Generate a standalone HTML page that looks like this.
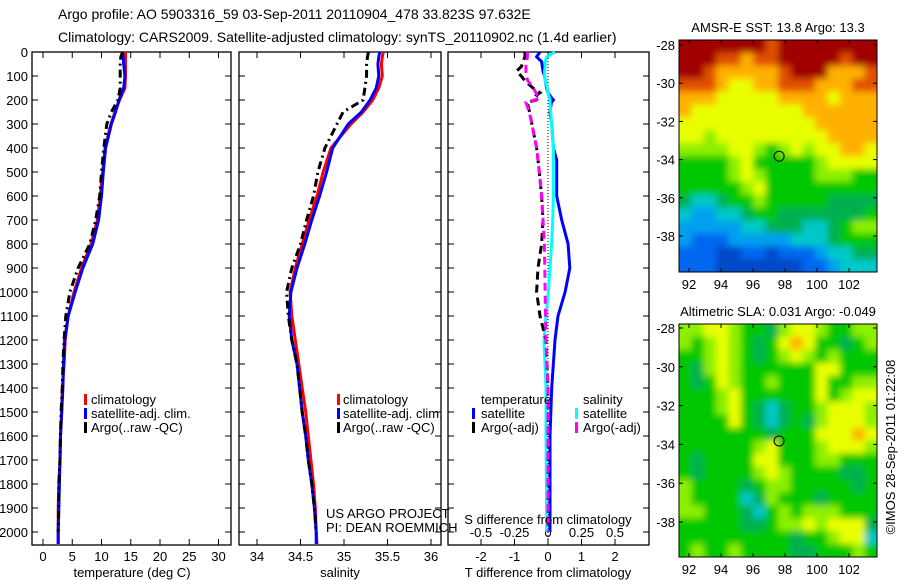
<!DOCTYPE html>
<html><head><meta charset="utf-8">
<style>
html,body{margin:0;padding:0;background:#fff;}
svg{display:block;font-family:"Liberation Sans",sans-serif;}
</style></head>
<body>
<svg id="fig" width="900" height="580" viewBox="0 0 900 580" xmlns="http://www.w3.org/2000/svg">
<defs>
<filter id="smooth" x="-5%" y="-5%" width="110%" height="110%"><feGaussianBlur stdDeviation="3.5"/></filter>
<clipPath id="clipSst"><rect x="679" y="40" width="198" height="232"/></clipPath>
<clipPath id="clipSla"><rect x="679" y="324" width="198" height="233"/></clipPath>
</defs>
<rect width="900" height="580" fill="#fff"/>
<text x="58" y="19" font-size="14">Argo profile: AO 5903316_59 03-Sep-2011 20110904_478 33.823S 97.632E</text>
<text x="58" y="42" font-size="14">Climatology: CARS2009. Satellite-adjusted climatology: synTS_20110902.nc (1.4d earlier)</text>
<g id="plots"></g>
</svg>
<script>
// ---- profile data ----
const depthT = [0,20,50,100,150,200,250,300,400,500,600,700,800,900,1000,1100,1200,1300,1400,1500,1600,1700,1800,1900,2000,2050];
const tempClim = [14.1,14.1,14.1,14.1,14.0,13.1,12.3,11.6,10.6,10.2,9.8,9.3,8.2,6.6,5.3,4.3,3.8,3.6,3.3,3.2,3.0,2.9,2.7,2.6,2.6,2.6];
const tempSat  = [13.6,13.7,13.8,14.0,13.8,13.0,12.4,11.7,10.7,10.3,10.0,9.5,8.5,6.8,5.5,4.3,3.7,3.5,3.4,3.2,3.0,2.9,2.8,2.7,2.6,2.6];
const tempArgo = [13.6,13.3,13.2,13.2,13.2,12.8,11.7,10.9,10.4,10.0,9.7,9.0,8.0,6.0,4.6,3.9,3.6,3.4,3.3,3.1,3.0,2.9,2.7,2.7,2.6];
const salClim = [35.45,35.44,35.43,35.44,35.40,35.33,35.22,35.08,34.85,34.76,34.69,34.60,34.52,34.44,34.38,34.40,34.44,34.48,34.52,34.56,34.59,34.62,34.65,34.67,34.68,34.69];
const salSat  = [35.41,35.40,35.39,35.40,35.37,35.30,35.20,35.05,34.87,34.80,34.72,34.63,34.55,34.46,34.39,34.37,34.40,34.46,34.49,34.52,34.56,34.59,34.63,34.66,34.68,34.68];
const salArgo = [35.28,35.27,35.26,35.26,35.24,35.22,34.99,34.92,34.78,34.70,34.65,34.57,34.50,34.40,34.34,34.36,34.40,34.46,34.49,34.52,34.56,34.59,34.63,34.66,34.68];
const depthD = [0,20,40,60,80,100,120,150,170,180,190,200,210,250,300,400,450,500,600,700,800,900,1000,1100,1200,1400,1600,1800,2000];
const dTsat  = [-0.24,-0.34,-0.19,-0.17,-0.15,-0.10,-0.08,-0.04,0.0,0.05,0.10,0.16,0.10,0.06,0.11,0.16,0.26,0.26,0.26,0.41,0.60,0.65,0.51,0.30,0.21,0.11,0.06,0.06,0.06];
const dSsat  = [0.052,-0.01,-0.02,-0.022,-0.025,-0.025,-0.02,-0.005,0.0,0.005,0.01,0.015,0.015,0.02,0.027,0.04,0.04,0.04,0.04,0.035,0.027,0.015,0.002,-0.015,-0.03,-0.015,-0.015,-0.012,-0.01];
const dTargo = [-0.69,-0.69,-0.75,-0.79,-0.94,-0.80,-0.69,-0.45,-0.24,-0.34,-0.24,-0.35,-0.62,-0.55,-0.48,-0.34,-0.3,-0.26,-0.19,-0.15,-0.19,-0.30,-0.34,-0.24,-0.06,0.0,0.0,0.0,0.0];
const dSargo = [-0.154,-0.154,-0.16,-0.165,-0.165,-0.165,-0.15,-0.11,-0.09,-0.08,-0.06,-0.10,-0.164,-0.14,-0.12,-0.085,-0.075,-0.065,-0.047,-0.037,-0.027,-0.024,-0.022,-0.018,-0.015,0.0,0.0,0.0,0.0];
const depthTicks = [0,100,200,300,400,500,600,700,800,900,1000,1100,1200,1300,1400,1500,1600,1700,1800,1900,2000];
const tempTicks = [0,5,10,15,20,25,30];
const salTicks = [34,34.5,35,35.5,36];
const salTickLabels = ["34","34.5","35","35.5","36"];
const tdTicks = [-2,-1,0,1,2];
const sdTicks = [-0.5,-0.25,0,0.25,0.5];
const sdTickLabels = ["-0.5","-0.25","0","0.25","0.5"];
// ---- map data (colour levels 0..10) ----
const sstGrid = [
"AAAAAAA9AAAAAAAA","AAA99899AAAAA9AA","AA9888889AAA8889","9998778899988899",
"8887777788887888","8777777777888888","7777777777788888","7767777777778888",
"6666776567677887","5555675555567777","5555676555566655","5555567555555555",
"4334556555554444","3223345544444445","2222233444334566","2111222223334555",
"1110011011123344","1110000000112333"];
const slaGrid = [
"6677655467765566","6567654578755456","5567654567656555","5467655555577555",
"5457655655575566","5556755555575677","5556754345567776","5555754345467776",
"5555555455577787","5555556755567776","5455557755566555","5455556765555445",
"6555545665555545","6555534655545555","6655543565666555","5555544566767774",
"5555555554556773","5655655554455565"];
const sstLabelVals = [13.8, 13.3];
const slaLabelVals = [0.031, -0.049];
const mapLons = [92,94,96,98,100,102];
const mapLats = [-28,-30,-32,-34,-36,-38];
const argoPos = [97.632, -33.823];
const palette = ["#0048c8","#0068f0","#00a0f0","#00c8c8","#00b050","#00c800","#8cf000","#e8ff00","#ffb000","#e05000","#a00000"];

const NS="http://www.w3.org/2000/svg";
const root=document.getElementById('plots');
function mk(tag,attrs,parent){const e=document.createElementNS(NS,tag);for(const k in attrs)e.setAttribute(k,attrs[k]);(parent||root).appendChild(e);return e;}

const yTop=52, pxPer100=24;
function yD(d){return yTop+d*pxPer100/100;}
const yBot=545;

function panel(x0,x1,name){
  const g=mk('g',{});
  
  
  const r=mk('rect',{x:x0,y:yTop,width:x1-x0,height:yBot-yTop,fill:'none',stroke:'#000','stroke-width':1.3},g);
  
  
  return g;
}
function line(g,xs,ds,fx,color,w,dash,name){
  let p='';
  for(let i=0;i<xs.length;i++){p+=(i?'L':'M')+fx(xs[i]).toFixed(1)+' '+yD(ds[i]).toFixed(1);}
  const e=mk('path',{d:p,fill:'none',stroke:color,'stroke-width':w,'stroke-dasharray':dash||'none'},g);
  
  
}
function depthTicksDraw(g,x0,x1,labels){
  depthTicks.forEach(d=>{
    const y=yD(d);
    mk('line',{x1:x0,x2:x0+6,y1:y,y2:y,stroke:'#000'},g);
    mk('line',{x1:x1-6,x2:x1,y1:y,y2:y,stroke:'#000'},g);
    if(labels){const t=mk('text',{x:28,y:y+5,'font-size':13,'text-anchor':'end'},g);t.textContent=d;
      
      }
  });
}
function xTicks(g,vals,labs,fx,yLab,top,bottom){
  vals.forEach((v,i)=>{
    const x=fx(v);
    if(bottom) mk('line',{x1:x,x2:x,y1:yBot,y2:yBot-6,stroke:'#000'},g);
    if(top) mk('line',{x1:x,x2:x,y1:yTop,y2:yTop+6,stroke:'#000'},g);
    if(labs){const t=mk('text',{x:x,y:yLab,'font-size':13,'text-anchor':'middle'},g);t.textContent=labs[i];
      
      }
  });
}
function txt(g,x,y,s,name,anchor){const t=mk('text',{x:x,y:y,'font-size':13,'text-anchor':anchor||'start'},g);t.textContent=s;
  
  return t;}
function legBar(g,x,y,color,name){const r=mk('rect',{x:x,y:y-10,width:3,height:11,fill:color},g);
  
  }

// Panel 1 temperature
const fT=v=>43+v*5.85;
const g1=panel(32,231,'temperature-panel');
depthTicksDraw(g1,32,231,true);
xTicks(g1,tempTicks,tempTicks.map(String),fT,561,true,true);
line(g1,tempClim,depthT,fT,'#ff0000',3,null,'temp-climatology-line');
line(g1,tempSat,depthT,fT,'#0000ff',3,null,'temp-satellite-line');
line(g1,tempArgo,depthT.slice(0,tempArgo.length),fT,'#000',3,'8,4,2,4','temp-argo-line');
txt(g1,132,577,'temperature (deg C)','temperature-axis-title','middle');
legBar(g1,84,404,'#ff0000','legend-climatology-swatch');txt(g1,91,404,'climatology','legend-climatology');
legBar(g1,84,418,'#0000ff','legend-satellite-swatch');txt(g1,91,418,'satellite-adj. clim.','legend-satellite');
legBar(g1,84,432,'#000','legend-argo-swatch');txt(g1,91,432,'Argo(..raw -QC)','legend-argo');

// Panel 2 salinity
const fS=v=>257+(v-34)*87;
const g2=panel(239,441,'salinity-panel');
depthTicksDraw(g2,239,441,false);
xTicks(g2,salTicks,salTickLabels,fS,561,true,true);
line(g2,salClim,depthT,fS,'#ff0000',3,null,'sal-climatology-line');
line(g2,salSat,depthT,fS,'#0000ff',3,null,'sal-satellite-line');
line(g2,salArgo,depthT.slice(0,salArgo.length),fS,'#000',3,'8,4,2,4','sal-argo-line');
txt(g2,340,577,'salinity','salinity-axis-title','middle');
legBar(g2,337,404,'#ff0000','legend2-climatology-swatch');txt(g2,343,404,'climatology','legend2-climatology');
legBar(g2,337,418,'#0000ff','legend2-satellite-swatch');txt(g2,343,418,'satellite-adj. clim.','legend2-satellite');
legBar(g2,337,432,'#000','legend2-argo-swatch');txt(g2,343,432,'Argo(..raw -QC)','legend2-argo');
txt(g2,326,518,'US ARGO PROJECT','credit-project');
txt(g2,326,532,'PI: DEAN ROEMMICH','credit-pi');

// Panel 3 differences
const fTd=v=>548+v*33.5;
const fSd=v=>548+v*134;
const g3=panel(448,649,'difference-panel');
depthTicksDraw(g3,448,649,false);
xTicks(g3,tdTicks,tdTicks.map(String),fTd,561,false,true);
xTicks(g3,sdTicks,null,fSd,0,true,false);
sdTicks.forEach((v,i)=>{txt(g3,fSd(v),537,sdTickLabels[i],'s-diff-tick-label','middle');});
mk('line',{x1:548,x2:548,y1:yTop,y2:yBot,stroke:'#000','stroke-dasharray':'1,2'},g3);
line(g3,dTsat,depthD,fTd,'#0000ff',3,null,'tdiff-satellite-line');
line(g3,dSsat,depthD,fSd,'#00ffff',3,null,'sdiff-satellite-line');
line(g3,dTargo,depthD,fTd,'#000',3,'8,5','tdiff-argo-line');
line(g3,dSargo,depthD,fSd,'#ff00ff',3,'8,5','sdiff-argo-line');
txt(g3,548,524,'S difference from climatology','s-diff-axis-title','middle');
txt(g3,548,577,'T difference from climatology','t-diff-axis-title','middle');
txt(g3,481,404,'temperature','legend3-temperature-heading');
legBar(g3,472,418,'#0000ff','legend3-tsat-swatch');txt(g3,481,418,'satellite','legend3-tsat');
legBar(g3,472,432,'#000','legend3-targo-swatch');txt(g3,481,432,'Argo(-adj)','legend3-targo');
txt(g3,583,404,'salinity','legend3-salinity-heading');
legBar(g3,575,418,'#00ffff','legend3-ssat-swatch');txt(g3,583,418,'satellite','legend3-ssat');
legBar(g3,575,432,'#ff00ff','legend3-sargo-swatch');txt(g3,583,432,'Argo(-adj)','legend3-sargo');

// Maps
function drawMap(grid,top,bottom,lat28y,latStep,title,name,clipId){
  const x0=679,x1=877;
  const g=mk('g',{});
  
  
  const clipG=mk('g',{'clip-path':'url(#'+clipId+')'},g);
  const cellsG=mk('g',{filter:'url(#smooth)'},clipG);
  const rows=grid.length, cols=grid[0].length;
  const cw=(x1-x0)/cols, ch=(bottom-top)/rows;
  const pad=10;
  for(let r=0;r<rows;r++)for(let c=0;c<cols;c++){
    const lv=parseInt(grid[r][c],16);
    let x=x0+c*cw, y=top+r*ch, w=cw+0.6, h=ch+0.6;
    if(c===0){x-=pad;w+=pad;} if(c===cols-1){w+=pad;}
    if(r===0){y-=pad;h+=pad;} if(r===rows-1){h+=pad;}
    const cell=mk('rect',{x:x.toFixed(2),y:y.toFixed(2),width:w.toFixed(2),height:h.toFixed(2),fill:palette[lv]},cellsG);
    
    
  }
  const fr=mk('rect',{x:x0,y:top,width:x1-x0,height:bottom-top,fill:'none',stroke:'#000'},g);
  
  
  const fx=lon=>689+(lon-92)*16;
  const fy=lat=>lat28y+(-28-lat)*latStep;
  mapLons.forEach(l=>{const x=fx(l);
    mk('line',{x1:x,x2:x,y1:top,y2:top+4,stroke:'#000'},g);
    mk('line',{x1:x,x2:x,y1:bottom,y2:bottom-4,stroke:'#000'},g);
    txt(g,x,bottom+17,String(l),'lon-tick-label','middle');});
  mapLats.forEach(l=>{const y=fy(l);
    mk('line',{x1:x1-4,x2:x1,y1:y,y2:y,stroke:'#000'},g);
    mk('line',{x1:x0,x2:x0+4,y1:y,y2:y,stroke:'#000'},g);
    txt(g,675,y+5,String(l),'lat-tick-label','end');});
  const c=mk('circle',{cx:fx(argoPos[0]),cy:fy(argoPos[1]),r:5,fill:'none',stroke:'#000','stroke-width':1},g);
  
  
  txt(g,778,top-8,title,name+'-title','middle');
}
drawMap(sstGrid,40,272,45,19.1,'AMSR-E SST: '+sstLabelVals[0]+' Argo: '+sstLabelVals[1],'sst-map','clipSst');
drawMap(slaGrid,324,557,328,19.4,'Altimetric SLA: '+slaLabelVals[0]+'  Argo: '+slaLabelVals[1],'sla-map','clipSla');
const cp=mk('text',{x:0,y:0,'font-size':13,'text-anchor':'middle',transform:'translate(895,447) rotate(-90)'});
cp.textContent='©IMOS 28-Sep-2011 01:22:08';


</script>
</body></html>
